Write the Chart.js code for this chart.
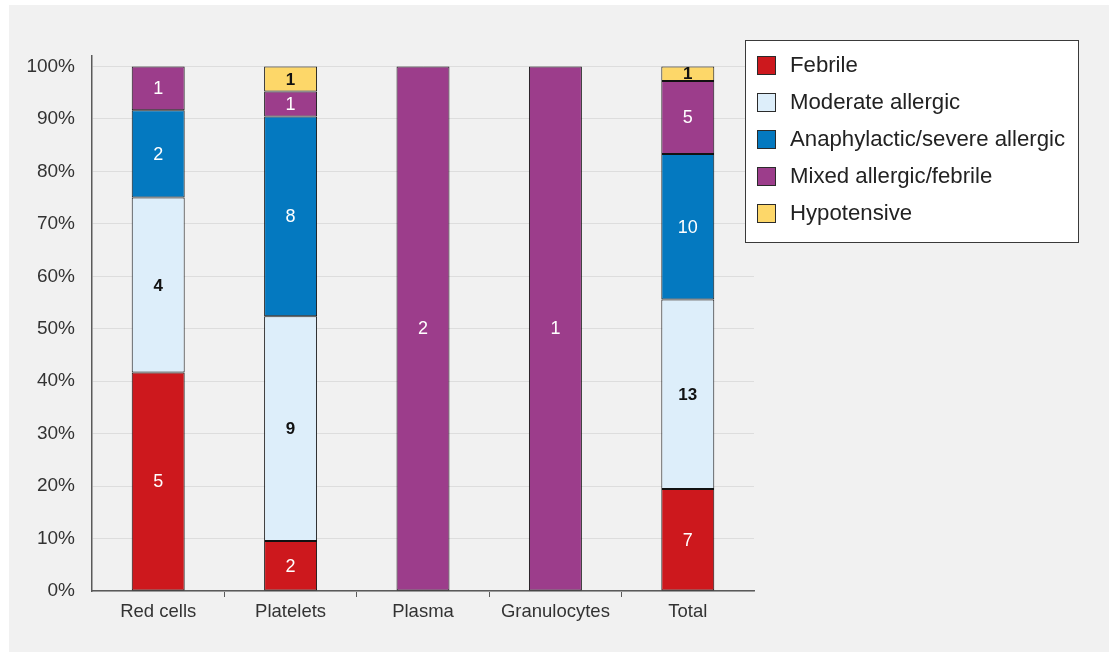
<!DOCTYPE html>
<html>
<head>
<meta charset="utf-8">
<script src="https://cdn.jsdelivr.net/npm/chart.js@4"></script>
<style>
  body { margin: 0; background: #ffffff; }
  #wrap { position: absolute; left: 9px; top: 5px; width: 1100px; height: 647px; background: #f1f1f1; }
</style>
</head>
<body>
<div id="wrap">
  <canvas id="reactions" width="1100" height="647"></canvas>
</div>
<script>
// categories and reaction counts per component
const categories = ["Red cells", "Platelets", "Plasma", "Granulocytes", "Total"];
const febrile = [5, 2, 0, 0, 7];
const moderateAllergic = [4, 9, 0, 0, 13];
const anaphylactic = [2, 8, 0, 0, 10];
const mixed = [1, 1, 2, 1, 5];
const hypotensive = [0, 1, 0, 0, 1];
const yTicks = [0, 10, 20, 30, 40, 50, 60, 70, 80, 90, 100];

const series = [
  { label: "Febrile", counts: febrile, color: "#cd181d", text: "#ffffff" },
  { label: "Moderate allergic", counts: moderateAllergic, color: "#ddeefa", text: "#111111" },
  { label: "Anaphylactic/severe allergic", counts: anaphylactic, color: "#0479c0", text: "#ffffff" },
  { label: "Mixed allergic/febrile", counts: mixed, color: "#9c3d8b", text: "#ffffff" },
  { label: "Hypotensive", counts: hypotensive, color: "#fdd769", text: "#111111" },
];

// totals per category, so each bar is shown as share of 100%
const totals = categories.map((c, i) => series.reduce((s, d) => s + d.counts[i], 0));

const datasets = series.map((s) => ({
  label: s.label,
  data: s.counts.map((v, i) => (v ? (v / totals[i]) * 100 : null)),
  counts: s.counts,
  textColor: s.text,
  backgroundColor: s.color,
  borderColor: "#111111",
  borderWidth: 1,
  borderSkipped: false,
  barPercentage: 0.4,
  categoryPercentage: 1,
}));

// writes the count in the middle of every segment
const countLabels = {
  id: "countLabels",
  afterDatasetsDraw(chart) {
    const ctx = chart.ctx;
    ctx.save();
    ctx.textAlign = "center";
    ctx.textBaseline = "middle";
    chart.data.datasets.forEach((ds, di) => {
      const meta = chart.getDatasetMeta(di);
      meta.data.forEach((bar, i) => {
        if (ds.data[i] === null) return;
        ctx.fillStyle = ds.textColor;
        ctx.font = (ds.textColor === "#ffffff" ? "normal 18px " : "bold 17px ") + "'Liberation Sans', Arial, sans-serif";
        ctx.fillText(String(ds.counts[i]), bar.x, (bar.y + bar.base) / 2 + 1);
      });
    });
    ctx.restore();
  },
};

// boxed legend sitting over the top right of the plot
const boxLegend = {
  id: "boxLegend",
  afterDraw(chart) {
    const ctx = chart.ctx;
    const x = 736, y = 35, w = 333, h = 202;
    ctx.save();
    ctx.fillStyle = "#ffffff";
    ctx.fillRect(x, y, w, h);
    ctx.strokeStyle = "#3a3a3a";
    ctx.lineWidth = 1;
    ctx.strokeRect(x + 0.5, y + 0.5, w, h);
    ctx.font = "22.2px 'Liberation Sans', Arial, sans-serif";
    ctx.textBaseline = "middle";
    chart.data.datasets.forEach((ds, i) => {
      const cy = 60 + i * 37;
      ctx.fillStyle = ds.backgroundColor;
      ctx.fillRect(748, cy - 9, 19, 19);
      ctx.strokeStyle = "#2b2b2b";
      ctx.strokeRect(748.5, cy - 8.5, 18, 18);
      ctx.fillStyle = "#222222";
      ctx.fillText(ds.label, 781, cy + 1);
    });
    ctx.restore();
  },
};

new Chart(document.getElementById("reactions"), {
  type: "bar",
  data: { labels: categories, datasets: datasets },
  plugins: [countLabels, boxLegend],
  options: {
    responsive: false,
    animation: false,
    devicePixelRatio: 1,
    layout: { padding: { top: 51, right: 355, left: 0, bottom: 0 } },
    plugins: { legend: { display: false }, tooltip: { enabled: false } },
    scales: {
      x: {
        stacked: true,
        afterFit: (scale) => { scale.height = 61; },
        border: { color: "#5a5a5a", width: 1.5 },
        grid: {
          offset: true,
          drawOnChartArea: false,
          drawTicks: true,
          tickLength: 6,
          color: (c) => (c.index === undefined || c.index === 0 ? "rgba(0,0,0,0)" : "#5a5a5a"),
        },
        ticks: {
          color: "#333333",
          padding: 4,
          font: { family: "'Liberation Sans', Arial, sans-serif", size: 18.5 },
        },
      },
      y: {
        stacked: true,
        min: 0,
        max: 102,
        afterFit: (scale) => { scale.width = 83; },
        afterBuildTicks: (scale) => {
          scale.ticks = yTicks.map((v) => ({ value: v }));
        },
        border: { color: "#5a5a5a", width: 1.5 },
        grid: { color: "#dddddd", lineWidth: 1, drawTicks: false },
        ticks: {
          color: "#333333",
          padding: 17,
          font: { family: "'Liberation Sans', Arial, sans-serif", size: 19 },
          callback: (v) => v + "%",
        },
      },
    },
  },
});
</script>
</body>
</html>
